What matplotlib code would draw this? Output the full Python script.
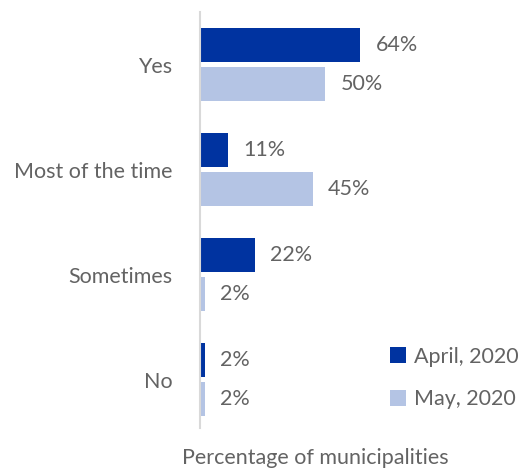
import matplotlib
matplotlib.use("Agg")
import matplotlib.pyplot as plt
import numpy as np

categories = ["Yes", "Most of the time", "Sometimes", "No"]
april = [64, 11, 22, 2]
may = [50, 45, 2, 2]
series_names = ["April, 2020", "May, 2020"]
xlabel = "Percentage of municipalities"

dark = "#0033A0"
light = "#B4C4E4"
text_color = "#636363"

plt.rcParams['font.family'] = ['Lato', 'DejaVu Sans']
FS = 15.5

fig = plt.figure(figsize=(5.28, 4.71), dpi=100)
ax = fig.add_axes([0.379, 0.0913, 0.621, 0.883])

y = np.arange(len(categories))
h = 0.325
off = 0.186
b1 = ax.barh(y - off, april, height=h, color=dark, label=series_names[0])
b2 = ax.barh(y + off, may, height=h, color=light, label=series_names[1])

for bars, vals in ((b1, april), (b2, may)):
    for rect, v in zip(bars, vals):
        ax.annotate(f"{v}%", (rect.get_width(), rect.get_y() + rect.get_height() / 2),
                    xytext=(11, 0), textcoords="offset points", va="center", ha="left",
                    fontsize=FS, color=text_color)

ax.set_xlim(0, 131)
ax.set_ylim(3.46, -0.5)
ax.set_yticks(y)
ax.set_yticklabels(categories, fontsize=FS, color=text_color)
ax.tick_params(axis='y', length=0, pad=20)
ax.set_xticks([])
for s in ["top", "right", "bottom"]:
    ax.spines[s].set_visible(False)
ax.spines["left"].set_color("#D9D9D9")
ax.spines["left"].set_linewidth(1.5)

fig.text(0.597, 0.027, xlabel, ha="center", va="center", fontsize=FS, color=text_color)

leg = ax.legend(loc="lower right", bbox_to_anchor=(1.03, -0.002), frameon=False,
                prop={'size': FS}, handlelength=0.75, handleheight=0.75,
                handletextpad=0.35, labelspacing=1.05, labelcolor=text_color)

fig.savefig("out.png", dpi=100)
